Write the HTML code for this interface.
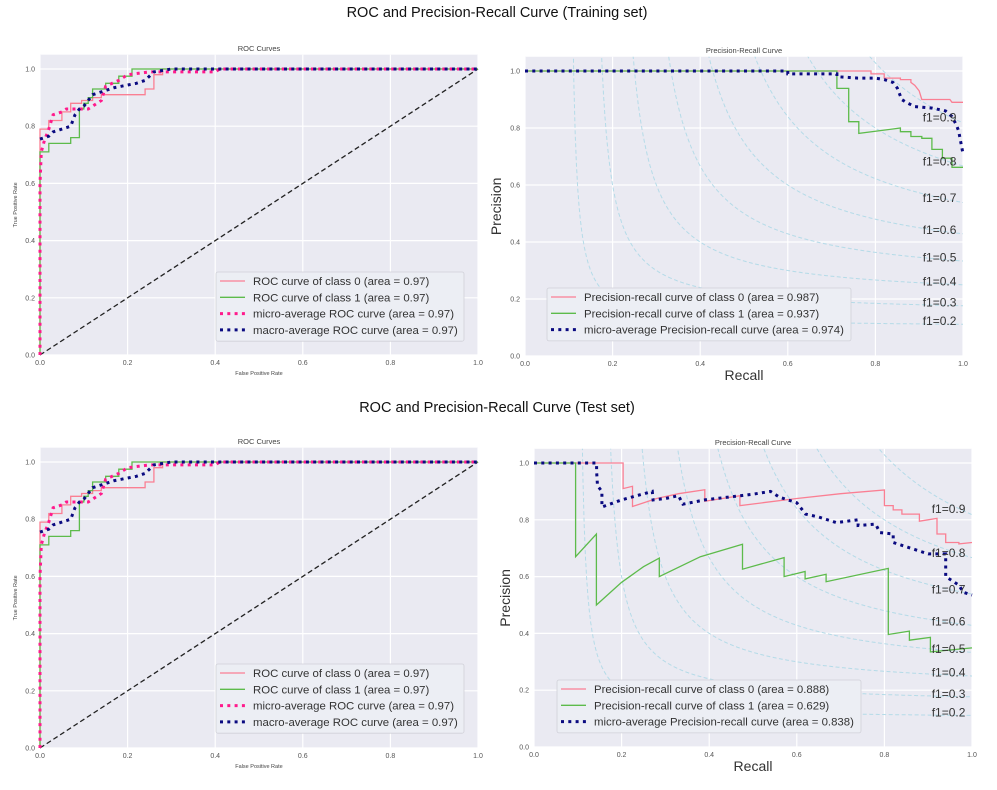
<!DOCTYPE html>
<html><head><meta charset="utf-8">
<style>
body{margin:0;background:#fff;width:997px;height:790px;overflow:hidden;font-family:"Liberation Sans",sans-serif}
svg{position:absolute;left:0;top:0}
</style></head>
<body>
<svg id="fig" width="997" height="790" viewBox="0 0 997 790">
<text x="497" y="17" text-anchor="middle" font-size="14.5" fill="#111">ROC and Precision-Recall Curve (Training set)</text>
<text x="497" y="412" text-anchor="middle" font-size="14.5" fill="#111">ROC and Precision-Recall Curve (Test set)</text>
</svg>
<script>
// ROC data (same for training/test as shown)
const rocC0X=[0,0,0.02,0.02,0.05,0.05,0.07,0.07,0.095,0.095,0.12,0.12,0.14,0.14,0.24,0.24,0.26,0.26,0.28,0.28,1];
const rocC0Y=[0,0.79,0.79,0.82,0.82,0.85,0.85,0.88,0.88,0.89,0.89,0.90,0.90,0.91,0.91,0.93,0.93,0.98,0.98,1,1];
const rocC1X=[0,0,0.02,0.02,0.07,0.07,0.09,0.09,0.10,0.10,0.11,0.11,0.12,0.12,0.15,0.15,0.18,0.18,0.21,0.21,1];
const rocC1Y=[0,0.71,0.71,0.74,0.74,0.76,0.76,0.86,0.86,0.88,0.88,0.90,0.90,0.93,0.93,0.95,0.95,0.975,0.975,1,1];
const rocMicroX=[0,0,0.003,0.01,0.02,0.03,0.05,0.06,0.09,0.11,0.12,0.14,0.15,0.18,0.2,0.25,0.29,0.4,0.41,1];
const rocMicroY=[0,0.6,0.71,0.75,0.79,0.84,0.85,0.86,0.86,0.86,0.87,0.89,0.94,0.96,0.98,0.99,0.99,0.99,1,1];
const rocMacroX=[0,0.02,0.03,0.05,0.07,0.08,0.09,0.1,0.12,0.14,0.17,0.22,0.24,0.26,0.3,1];
const rocMacroY=[0.755,0.765,0.78,0.79,0.80,0.84,0.86,0.87,0.91,0.92,0.935,0.95,0.96,0.99,1,1];
// PR training
const prTrC0X=[0,0.79,0.79,0.82,0.82,0.857,0.857,0.881,0.881,0.89,0.9,0.906,0.93,0.97,0.975,1];
const prTrC0Y=[1,1,0.99,0.99,0.975,0.975,0.97,0.97,0.96,0.95,0.93,0.9,0.9,0.9,0.89,0.89];
const prTrC1X=[0,0.712,0.712,0.739,0.739,0.762,0.762,0.857,0.857,0.881,0.881,0.906,0.906,0.929,0.929,0.953,0.953,0.975,0.975,1];
const prTrC1Y=[1,1,0.939,0.939,0.822,0.822,0.781,0.80,0.787,0.787,0.77,0.77,0.764,0.764,0.725,0.725,0.694,0.694,0.662,0.662];
const prTrMicroX=[0,0.6,0.6,0.712,0.712,0.76,0.8,0.82,0.84,0.85,0.86,0.87,0.89,0.93,0.96,0.975,0.985,0.99,0.995,1];
const prTrMicroY=[1,1,0.99,0.99,0.98,0.975,0.975,0.97,0.96,0.94,0.9,0.89,0.875,0.87,0.86,0.84,0.81,0.79,0.75,0.71];
// PR test
const prTeC0X=[0,0.2035,0.2035,0.225,0.225,0.28,0.33,0.39,0.39,0.47,0.47,0.6,0.7,0.8,0.8,0.82,0.82,0.84,0.84,0.88,0.88,0.92,0.92,0.94,0.94,0.97,0.97,1];
const prTeC0Y=[1,1,0.91,0.918,0.847,0.875,0.892,0.906,0.865,0.885,0.85,0.875,0.892,0.905,0.85,0.85,0.835,0.835,0.82,0.82,0.795,0.805,0.75,0.75,0.72,0.72,0.715,0.72];
const prTeC1X=[0,0.095,0.095,0.1425,0.1425,0.2,0.25,0.286,0.286,0.38,0.476,0.476,0.571,0.571,0.619,0.619,0.667,0.667,0.809,0.809,0.857,0.857,0.905,0.905,1];
const prTeC1Y=[1,1,0.67,0.75,0.5,0.58,0.635,0.665,0.6,0.67,0.714,0.626,0.667,0.6,0.618,0.592,0.608,0.582,0.629,0.396,0.408,0.376,0.386,0.335,0.349];
const prTeMicroX=[0,0.143,0.143,0.145,0.155,0.155,0.2,0.27,0.272,0.3,0.33,0.34,0.39,0.5,0.54,0.56,0.6,0.62,0.65,0.69,0.74,0.74,0.78,0.79,0.82,0.82,0.86,0.9,0.94,0.94,0.97,0.98,1];
const prTeMicroY=[1,1,0.97,0.92,0.9,0.845,0.87,0.9,0.87,0.875,0.885,0.855,0.87,0.89,0.9,0.88,0.86,0.82,0.81,0.79,0.8,0.78,0.785,0.755,0.75,0.72,0.7,0.68,0.68,0.6,0.57,0.545,0.535];
const f1Scores=[0.2,0.3,0.4,0.5,0.6,0.7,0.8,0.9];
const f1LabelY=[0.124,0.189,0.264,0.347,0.444,0.557,0.685,0.839];
const tickVals=[0,0.2,0.4,0.6,0.8,1.0];
const tickLabels=["0.0","0.2","0.4","0.6","0.8","1.0"];

const NS="http://www.w3.org/2000/svg";
const fig=document.getElementById('fig');
function mk(tag,attrs,parent){const e=document.createElementNS(NS,tag);for(const k in attrs)e.setAttribute(k,attrs[k]);(parent||fig).appendChild(e);return e;}

function axes(box,name){
  const g=mk('g',{});
  
  
  const sx=v=>box.l+(box.r-box.l)*v;
  const sy=v=>box.y0-(box.y0-box.y1)*v;
  const top=sy(1.05);
  mk('rect',{x:box.l,y:top,width:box.r-box.l,height:box.y0-top,fill:'#eaeaf2'},g);
  tickVals.forEach((t,i)=>{
    mk('line',{x1:sx(t),x2:sx(t),y1:top,y2:box.y0,stroke:'#fff','stroke-width':1.2},g);
    mk('line',{x1:box.l,x2:box.r,y1:sy(t),y2:sy(t),stroke:'#fff','stroke-width':1.2},g);
    const xt=mk('text',{x:sx(t),y:box.y0+10,'text-anchor':'middle','font-size':7,fill:'#555'},g);
    xt.textContent=tickLabels[i];
    
    
    const yt=mk('text',{x:box.l-5,y:sy(t)+2.5,'text-anchor':'end','font-size':7,fill:'#555'},g);
    yt.textContent=tickLabels[i];
    
    
  });
  return {g,sx,sy,top};
}
function line(ax,xs,ys,style,name){
  const d=xs.map((x,i)=>(i?'L':'M')+ax.sx(x).toFixed(1)+','+ax.sy(ys[i]).toFixed(1)).join('');
  const p=mk('path',Object.assign({d:d,fill:'none'},style),ax.g);
  
  
}
const S0={stroke:'#fa7f93','stroke-width':1.3};
const S1={stroke:'#5dbb4b','stroke-width':1.3};
const SMi={stroke:'#ff1a8c','stroke-width':3,'stroke-dasharray':'3 4.3'};
const SMa={stroke:'#0a0a80','stroke-width':3,'stroke-dasharray':'3 4.3'};
const SNa={stroke:'#0a0a80','stroke-width':3,'stroke-dasharray':'3 4.3'};

function text(ax,x,y,s,size,anchor,name,extra){
  const t=mk('text',Object.assign({x:x,y:y,'font-size':size,fill:'#222','text-anchor':anchor||'start'},extra||{}),ax.g);
  t.textContent=s;
  
  
  return t;
}
function legend(ax,x,y,w,entries,name){
  const h=entries.length*16.3+4;
  const r=mk('rect',{x:x,y:y,width:w,height:h,fill:'#eceef4',stroke:'#d0d0d8','stroke-width':0.8,rx:2},ax.g);
  
  
  entries.forEach((e,i)=>{
    const cy=y+9+i*16.3;
    const l=mk('line',Object.assign({x1:x+4,x2:x+29,y1:cy,y2:cy},e[1]),ax.g);
    
    
    text(ax,x+37,cy+4,e[0],11.4,'start','legend-entry',{fill:'#333'});
  });
}
function roc(l,r,y0,y1,titleY,leg,name){
  const ax=axes({l,r,y0,y1},name);
  text(ax,(l+r)/2,titleY,'ROC Curves',7.5,'middle','roc-title',{fill:'#444'});
  text(ax,(l+r)/2,y0+20,'False Positive Rate',5.5,'middle','x-axis-title',{fill:'#444'});
  text(ax,0,0,'True Positive Rate',5.5,'middle','y-axis-title',{fill:'#444',transform:`translate(17,${(y0+ax.top)/2}) rotate(-90)`});
  line(ax,[0,1],[0,1],{stroke:'#222','stroke-width':1.3,'stroke-dasharray':'5 3'},'chance-diagonal');
  line(ax,rocC0X,rocC0Y,S0,'roc-class-0');
  line(ax,rocC1X,rocC1Y,S1,'roc-class-1');
  line(ax,rocMicroX,rocMicroY,SMi,'roc-micro-average');
  line(ax,rocMacroX,rocMacroY,SMa,'roc-macro-average');
  legend(ax,216,leg,248,[['ROC curve of class 0 (area = 0.97)',S0],['ROC curve of class 1 (area = 0.97)',S1],['micro-average ROC curve (area = 0.97)',SMi],['macro-average ROC curve (area = 0.97)',SMa]],'roc-legend');
}
function pr(l,r,y0,y1,titleY,leg,legX,c0x,c0y,c1x,c1y,mx,my,areas,name){
  const ax=axes({l,r,y0,y1},name);
  text(ax,(l+r)/2,titleY,'Precision-Recall Curve',7.5,'middle','pr-title',{fill:'#444'});
  text(ax,(l+r)/2,y0+24,'Recall',14,'middle','x-axis-title',{fill:'#333'});
  text(ax,0,0,'Precision',14,'middle','y-axis-title',{fill:'#333',transform:`translate(${l-24},${(y0+ax.top)/2}) rotate(-90)`});
  const clip=mk('clipPath',{id:'c'+name},ax.g);
  mk('rect',{x:l,y:ax.top,width:r-l,height:y0-ax.top},clip);
  const ig=mk('g',{'clip-path':`url(#c${name})`},ax.g);
  f1Scores.forEach((f,i)=>{
    const xs=[],ys=[];
    for(let k=0;k<=2000;k++){const x=0.01+0.99*k/2000;const y=f*x/(2*x-f);if(y>0&&y<=3){xs.push(x);ys.push(y);}}
    const d=xs.map((x,j)=>(j?'L':'M')+ax.sx(x).toFixed(1)+','+ax.sy(ys[j]).toFixed(1)).join('');
    const p=mk('path',{d:d,fill:'none',stroke:'#b5dbe8','stroke-width':1,'stroke-dasharray':'4 2.5'},ig);
    
    
  });
  line(ax,c0x,c0y,S0,'pr-class-0');
  line(ax,c1x,c1y,S1,'pr-class-1');
  line(ax,mx,my,SNa,'pr-micro-average');
  f1Scores.forEach((f,i)=>{
    text(ax,ax.sx(0.908),ax.sy(f1LabelY[i])+4.5,'f1='+f.toFixed(1),12,'start','iso-f1-label',{fill:'#333'});
  });
  legend(ax,legX,leg,304,[['Precision-recall curve of class 0 (area = '+areas[0]+')',S0],['Precision-recall curve of class 1 (area = '+areas[1]+')',S1],['micro-average Precision-recall curve (area = '+areas[2]+')',SNa]],'pr-legend');
}
roc(40,478,355,69,51,272,'roc-training');
pr(525,963,356,71,53,288,547,prTrC0X,prTrC0Y,prTrC1X,prTrC1Y,prTrMicroX,prTrMicroY,['0.987','0.937','0.974'],'pr-training');
roc(40,478,748,462,444,664,'roc-test');
pr(534,972,747,463,445,680,557,prTeC0X,prTeC0Y,prTeC1X,prTeC1Y,prTeMicroX,prTeMicroY,['0.888','0.629','0.838'],'pr-test');
</script>
</body></html>
